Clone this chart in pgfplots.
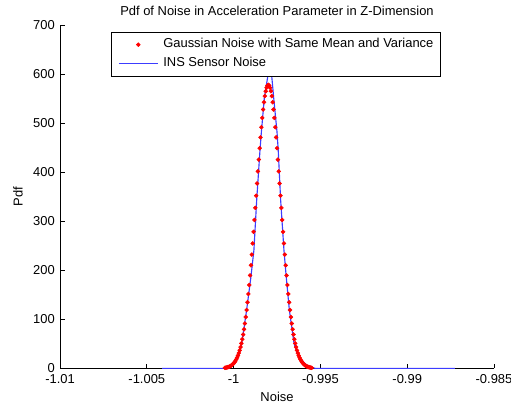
\documentclass[border=0pt]{standalone}
\usepackage{pgfplots}
\pgfplotsset{compat=1.18}
\usepackage{fontspec}
\setmainfont{Liberation Sans}
\definecolor{mblue}{RGB}{60,60,255}
\definecolor{mred}{RGB}{255,0,0}
\newcommand{\ff}{\fontsize{9.7pt}{11pt}\selectfont}
\pgfplotsset{
  redleg/.style={legend image code/.code={\draw[mark repeat=2,mark phase=2,##1] plot coordinates {(0pt,0pt) (14.6pt,0pt) (29.2pt,0pt)};}},
  blueleg/.style={legend image code/.code={\draw[mblue, line width=0.85pt] (0pt,0pt) -- (29.2pt,0pt);}},
}
\begin{document}
\ff
\begin{tikzpicture}
\begin{axis}[
  scale only axis, width=325.5pt, height=257.5pt,
  xmin=-1.01, xmax=-0.985, ymin=0, ymax=700,
  axis lines=left, axis line style={-, black, line width=0.6pt},
  tick style={black, line width=0.6pt},
  tick align=inside, major tick length=3.4pt,
  xtick={-1.01,-1.005,-1,-0.995,-0.99,-0.985},
  xticklabels={-1.01,-1.005,-1,-0.995,-0.99,-0.985},
  ytick={0,100,200,300,400,500,600,700},
  /pgf/number format/assume math mode=true,
  ticklabel style={font=\ff},
  xticklabel style={anchor=base, inner sep=0pt, yshift=-11.4pt},
  yticklabel style={anchor=east, inner sep=0pt, xshift=-3.75pt},
  every axis title shift=0pt,
  title={Pdf of Noise in Acceleration Parameter in Z-Dimension},
  title style={at={(axis description cs:0.5,1.0276)}, anchor=base, inner sep=0pt, font=\ff},
  xlabel={Noise}, ylabel={Pdf},
  xlabel style={at={(axis description cs:0.5,-0.0971)}, anchor=base, inner sep=0pt, font=\ff},
  ylabel style={at={(axis description cs:-0.0863,0.5)}, anchor=base, inner sep=0pt, font=\ff},
  legend cell align=left,
  legend style={name=leg, at={(0.1175,0.9787)}, anchor=north west, draw=none, fill=white,
    inner xsep=5.25pt, inner ysep=4.6pt, row sep=5.3pt, /tikz/column sep=3.75pt,
    nodes={inner sep=0pt, text height=6.9pt, text depth=2pt},
    font=\ff},
  clip=false,
]
\addplot[only marks, mark=*, mark size=1.45pt, color=mred, redleg]
coordinates {
(-1.00050,1.04) (-1.00045,1.33) (-1.00040,1.70) (-1.00035,2.17) (-1.00030,2.74)
(-1.00025,3.45) (-1.00020,4.32) (-1.00015,5.38) (-1.00010,6.67) (-1.00005,8.23)
(-1.00000,10.10) (-0.99995,12.34) (-0.99990,14.99) (-0.99985,18.12) (-0.99980,21.79)
(-0.99975,26.08) (-0.99970,31.05) (-0.99965,36.78) (-0.99960,43.36) (-0.99955,50.85)
(-0.99950,59.35) (-0.99945,68.90) (-0.99940,79.57) (-0.99935,91.44) (-0.99930,104.56)
(-0.99925,118.95) (-0.99920,134.66) (-0.99915,151.65) (-0.99910,169.93) (-0.99905,189.45)
(-0.99900,210.16) (-0.99895,231.95) (-0.99890,254.70) (-0.99885,278.27) (-0.99880,302.50)
(-0.99875,327.17) (-0.99870,352.07) (-0.99865,376.95) (-0.99860,401.56) (-0.99855,425.61)
(-0.99850,448.83) (-0.99845,470.93) (-0.99840,491.62) (-0.99835,510.62) (-0.99830,527.69)
(-0.99825,542.58) (-0.99820,555.08) (-0.99815,564.99) (-0.99810,572.18) (-0.99805,576.54)
(-0.99800,578.00)
(-0.99795,576.54) (-0.99790,572.18) (-0.99785,564.99) (-0.99780,555.08) (-0.99775,542.58)
(-0.99770,527.69) (-0.99765,510.62) (-0.99760,491.62) (-0.99755,470.93) (-0.99750,448.83)
(-0.99745,425.61) (-0.99740,401.56) (-0.99735,376.95) (-0.99730,352.07) (-0.99725,327.17)
(-0.99720,302.50) (-0.99715,278.27) (-0.99710,254.70) (-0.99705,231.95) (-0.99700,210.16)
(-0.99695,189.45) (-0.99690,169.93) (-0.99685,151.65) (-0.99680,134.66) (-0.99675,118.95)
(-0.99670,104.56) (-0.99665,91.44) (-0.99660,79.57) (-0.99655,68.90) (-0.99650,59.35)
(-0.99645,50.85) (-0.99640,43.36) (-0.99635,36.78) (-0.99630,31.05) (-0.99625,26.08)
(-0.99620,21.79) (-0.99615,18.12) (-0.99610,14.99) (-0.99605,12.34) (-0.99600,10.10)
(-0.99595,8.23) (-0.99590,6.67) (-0.99585,5.38) (-0.99580,4.32) (-0.99575,3.45)
(-0.99570,2.74) (-0.99565,2.17) (-0.99560,1.70) (-0.99555,1.33) (-0.99550,1.04)
};
\addlegendentry{Gaussian Noise with Same Mean and Variance}
\addplot[color=mblue, line width=0.85pt, mark=none, blueleg]
coordinates {
(-1.00412,0) (-1.00050,0) (-1.00035,0) (-1.00020,2) (-1.00002,6.7)
(-0.99973,23.7) (-0.99953,51) (-0.99925,119) (-0.99900,187) (-0.99883,241)
(-0.99867,343) (-0.99848,445) (-0.99840,482) (-0.99823,551) (-0.99802,598)
(-0.99781,598) (-0.99769,551) (-0.99750,482) (-0.99743,445) (-0.99729,343)
(-0.99710,241) (-0.99697,187) (-0.99679,119) (-0.99652,51) (-0.99627,23.7)
(-0.99579,6.7) (-0.99531,0) (-0.98725,0)
};
\addlegendentry{INS Sensor Noise}
\end{axis}
\draw[black, line width=0.6pt] (leg.south west) rectangle (leg.north east);
\pgfresetboundingbox
\path[use as bounding box] ([shift={(-45pt,-31.275pt)}]current axis.south west) rectangle ([shift={(12.75pt,18.75pt)}]current axis.north east);
\end{tikzpicture}
\end{document}
